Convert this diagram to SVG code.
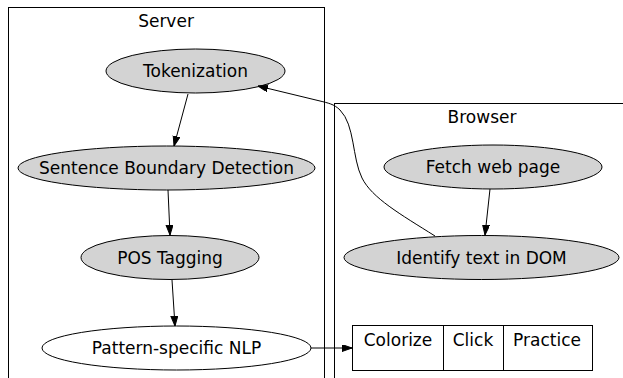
<svg xmlns="http://www.w3.org/2000/svg" width="623" height="378" viewBox="0 0 623 378">
<defs>
<marker id="arr" markerUnits="userSpaceOnUse" markerWidth="10" markerHeight="8" refX="10" refY="3.5" orient="auto"><path d="M0,0 L10,3.5 L0,7 z" fill="#000" stroke="#000" stroke-width="1"/></marker>
</defs>
<style>
.c{fill:none;stroke:#000;stroke-width:1}
.n{fill:#d3d3d3;stroke:#000;stroke-width:1}
.w{fill:#fff;stroke:#000;stroke-width:1}
text{font-family:"DejaVu Sans",sans-serif;font-size:17px;fill:#000;text-anchor:middle}
.e{fill:none;stroke:#000;stroke-width:1;marker-end:url(#arr)}
</style>
<rect width="623" height="378" fill="#fff"/>
<g id="cluster_server"><rect class="c" x="8.5" y="7.5" width="316" height="400"/><text x="166" y="27">Server</text></g>
<g id="cluster_browser"><rect class="c" x="334.5" y="103.5" width="300" height="300"/><text x="482" y="123">Browser</text></g>
<g id="tokenization"><ellipse class="n" cx="195.5" cy="71" rx="89.5" ry="22"/><text x="195.5" y="77">Tokenization</text></g>
<g id="sbd"><ellipse class="n" cx="166.5" cy="168" rx="148.5" ry="22"/><text x="166.5" y="174">Sentence Boundary Detection</text></g>
<g id="pos"><ellipse class="n" cx="170" cy="257.5" rx="89" ry="22"/><text x="170" y="263.5">POS Tagging</text></g>
<g id="nlp"><ellipse class="w" cx="176.5" cy="348" rx="134.5" ry="22"/><text x="176.5" y="354">Pattern-specific NLP</text></g>
<g id="fetch"><ellipse class="n" cx="493" cy="167" rx="109" ry="22"/><text x="493" y="173">Fetch web page</text></g>
<g id="identify"><ellipse class="n" cx="481.5" cy="257.5" rx="137.5" ry="22"/><text x="481.5" y="263.5">Identify text in DOM</text></g>
<g id="record"><rect class="w" x="352.5" y="325.5" width="240" height="45"/><line class="c" x1="443.5" y1="325.5" x2="443.5" y2="370.5"/><line class="c" x1="503.5" y1="325.5" x2="503.5" y2="370.5"/><text x="398" y="346">Colorize</text><text x="473" y="346">Click</text><text x="547" y="346">Practice</text></g>
<g id="edges">
<path class="e" d="M188,94 L174,146"/>
<path class="e" d="M168,190 L170,235"/>
<path class="e" d="M172,280 L175,326"/>
<path class="e" d="M490,189 L485,235"/>
<path class="e" d="M311,348 L352,348"/>
<path class="e" d="M435,236 C400,214 372,198 362,178 C352,158 355,125 340,110 C334,104 328,103 320,101 L258,86"/>
</g>
</svg>
